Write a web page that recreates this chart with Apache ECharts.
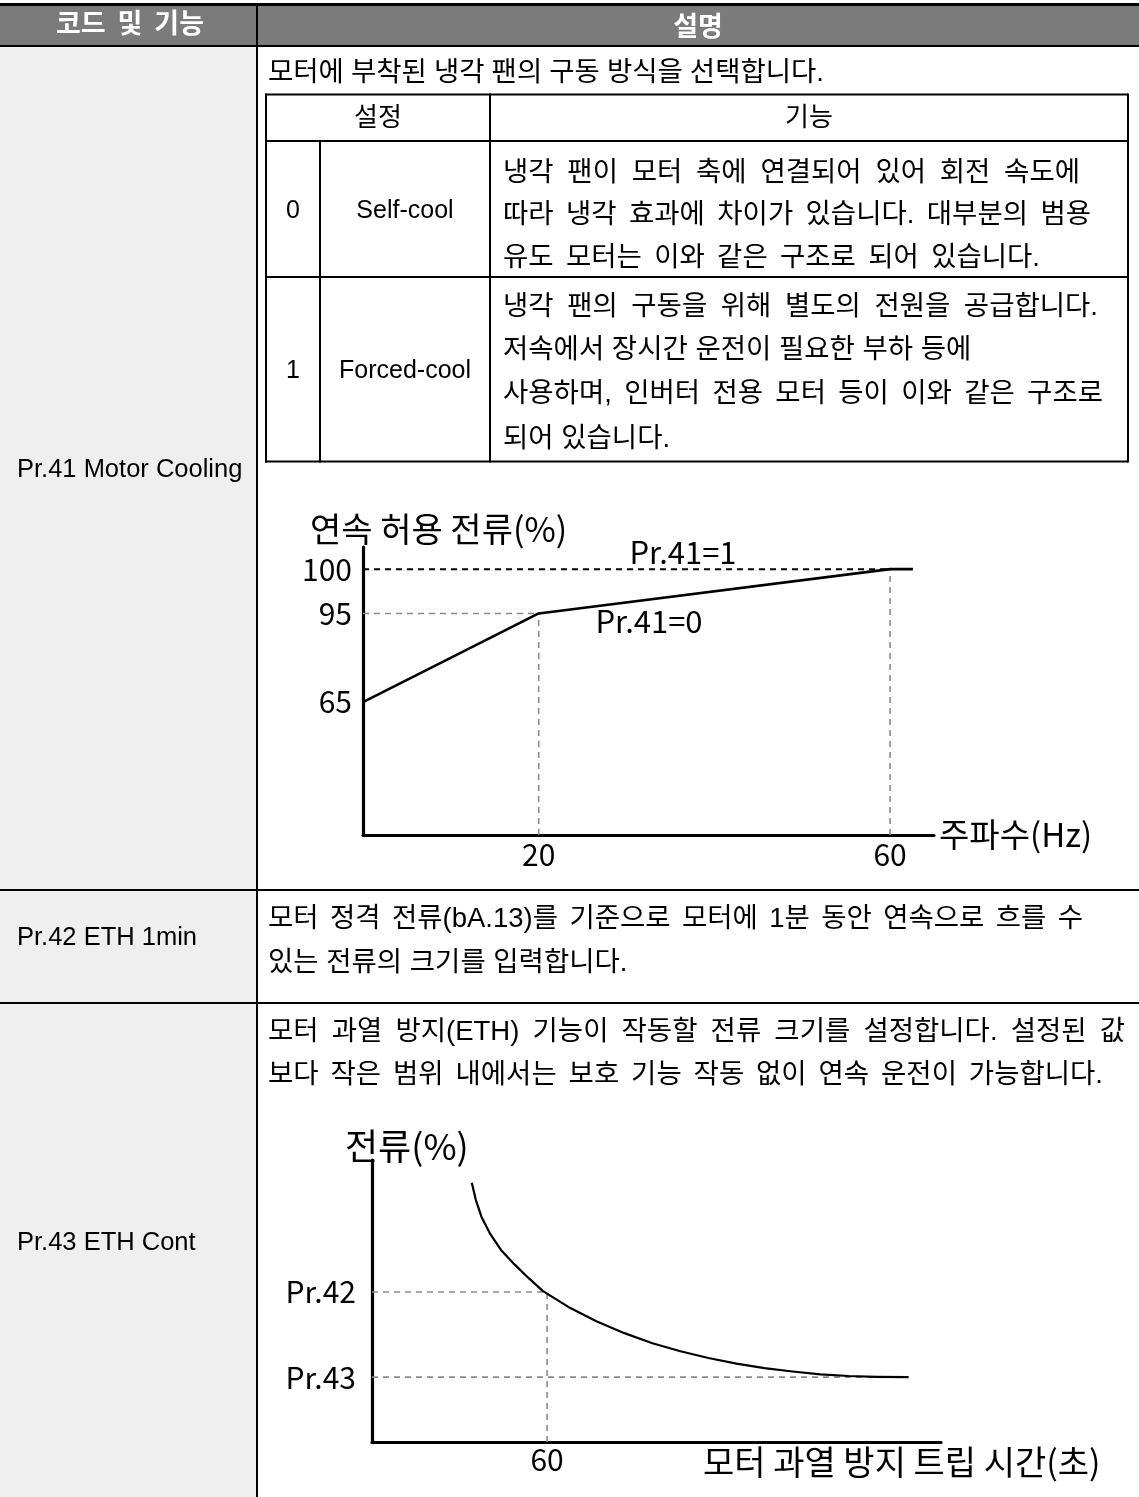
<!DOCTYPE html>
<html><head><meta charset="utf-8">
<script src="https://cdn.jsdelivr.net/npm/echarts@6/dist/echarts.min.js"></script>
<style>html,body{margin:0;padding:0;background:#fff}#c{width:1139px;height:1497px}</style>
</head><body><div id="c"></div>
<script>
// ---------- Chart 1 : 연속 허용 전류 vs 주파수 ----------
const freqHz = [0, 20, 60, 62.6];           // Pr.41=0 curve, x
const selfCoolPct = [65, 95, 100, 100];     // Pr.41=0 curve, y (%)
const forcedHz = [0, 60];                   // Pr.41=1 line, x
const forcedPct = [100, 100];               // Pr.41=1 line, y (%)
const xTicks1 = [20, 60];
const yTicks1 = [65, 95, 100];
// schematic drawing height of each labelled % (the drawing is not to scale)
const pctLevel = {0: 0, 65: 3, 95: 5, 100: 6};
const guides1 = [[[0, 95], [20, 95]], [[20, 0], [20, 95]], [[60, 0], [60, 100]]];

// ---------- Chart 2 : 전류 vs 모터 과열 방지 트립 시간 ----------
const tripTime = [34.2, 35.6, 37.5, 40.4, 44.2, 49.0, 53.8, 58.6, 67.3, 76.9, 86.5, 96.1, 105.7, 115.3, 124.9, 134.5, 144.1, 153.7, 163.3, 172.9, 183.9];
const tripCurrent = [91.9, 85.8, 79.9, 74.0, 68.1, 62.8, 58.0, 53.5, 47.9, 42.8, 38.6, 35.0, 32.2, 29.8, 27.8, 26.2, 25.0, 24.0, 23.4, 23.1, 23.0];
const xTicks2 = [60];
const yTicks2 = [53.2, 23.0];
const yTickLabels2 = ['Pr.42', 'Pr.43'];
const guides2 = [[[0, 53.2], [60, 53.2]], [[60, 0], [60, 53.2]], [[0, 23.0], [183.9, 23.0]]];

// ---------- Table text ----------
const headerCols = ['코드 및 기능', '설명'];
const codeLabels = ['Pr.41 Motor Cooling', 'Pr.42 ETH 1min', 'Pr.43 ETH Cont'];
const introText = '모터에 부착된 냉각 팬의 구동 방식을 선택합니다.';
const innerHeader = ['설정', '기능'];
const settingNums = ['0', '1'];
const settingNames = ['Self-cool', 'Forced-cool'];
const settingDesc = [
  ['냉각 팬이 모터 축에 연결되어 있어 회전 속도에', '따라 냉각 효과에 차이가 있습니다. 대부분의 범용', '유도 모터는 이와 같은 구조로 되어 있습니다.'],
  ['냉각 팬의 구동을 위해 별도의 전원을 공급합니다.', '저속에서 장시간 운전이 필요한 부하 등에', '사용하며, 인버터 전용 모터 등이 이와 같은 구조로', '되어 있습니다.']
];
const pr42Desc = ['모터 정격 전류(bA.13)를 기준으로 모터에 1분 동안 연속으로 흐를 수', '있는 전류의 크기를 입력합니다.'];
const pr43Desc = ['모터 과열 방지(ETH) 기능이 작동할 전류 크기를 설정합니다. 설정된 값', '보다 작은 범위 내에서는 보호 기능 작동 없이 연속 운전이 가능합니다.'];

const KR = '"Noto Sans CJK KR"';
const BODY = '"Liberation Sans", "Noto Sans CJK KR"';
const FS = 27.5;

const mctx = document.createElement('canvas').getContext('2d');
function measure(text, size, family, weight) {
  mctx.font = (weight || 'normal') + ' ' + size + 'px ' + family;
  return mctx.measureText(text).width;
}

function txt(text, x, y, size, o) {
  o = o || {};
  return {
    type: 'text', x: x, y: y, z: 20, silent: true,
    style: {
      text: text, fontSize: size, fontFamily: o.family || BODY, fontWeight: o.weight || 'normal',
      fill: o.color || '#000',
      align: o.align || 'left', textAlign: o.align || 'left',
      verticalAlign: 'middle', textVerticalAlign: 'middle'
    }
  };
}
// a text line whose words are spread to span x0..x1 (justified), as in the source document
function jline(out, text, x0, x1, y, size, o) {
  o = o || {};
  const fam = o.family || BODY, wt = o.weight || 'normal';
  const words = text.split(' ');
  const widths = words.map(w => measure(w, size, fam, wt));
  const sum = widths.reduce((a, b) => a + b, 0);
  const natGap = measure(' ', size, fam, wt);
  let gap = natGap;
  if (x1 != null && words.length > 1) gap = Math.max(natGap * 0.8, (x1 - x0 - sum) / (words.length - 1));
  let x = x0;
  words.forEach((w, i) => { out.push(txt(w, x, y, size, o)); x += widths[i] + gap; });
}
function ln(x1, y1, x2, y2, w, c) {
  return {type: 'line', z: 15, silent: true, shape: {x1: x1, y1: y1, x2: x2, y2: y2}, style: {stroke: c || '#000', lineWidth: w || 2}};
}
function rc(x, y, w, h, fill, z) {
  return {type: 'rect', z: z || 1, silent: true, shape: {x: x, y: y, width: w, height: h}, style: {fill: fill}};
}

const els = [];
// header
els.push(rc(0, 3, 1139, 3, '#000', 2));
els.push(rc(0, 6, 1139, 39, '#7b7b7c', 1));
els.push(rc(0, 47, 256, 1450, '#efefef', 1));
els.push(ln(0, 46, 1139, 46, 2));
els.push(ln(257, 6, 257, 1497, 2));
els.push(ln(0, 890, 1139, 890, 2));
els.push(ln(0, 1003, 1139, 1003, 2));
jline(els, headerCols[0], 56, 204, 26, 27, {weight: 'bold', color: '#fff'});
els.push(txt(headerCols[1], 698, 26, 27, {family: KR, weight: 'bold', color: '#fff', align: 'center'}));
// left labels
els.push(txt(codeLabels[0], 17, 470, 25.5));
els.push(txt(codeLabels[1], 17, 938, 25.5));
els.push(txt(codeLabels[2], 17, 1243, 25.5));
// intro
jline(els, introText, 268, 824, 73, FS);
// inner table
els.push(ln(265, 94.5, 1128, 94.5, 2));
els.push(ln(265, 141, 1128, 141, 2));
els.push(ln(265, 277, 1128, 277, 2));
els.push(ln(265, 461.5, 1128, 461.5, 2));
els.push(ln(266, 93.5, 266, 462.5, 2));
els.push(ln(1128, 93.5, 1128, 462.5, 2));
els.push(ln(490, 93.5, 490, 462.5, 2));
els.push(ln(320, 141, 320, 462.5, 2));
els.push(txt(innerHeader[0], 378, 119, 26, {align: 'center'}));
els.push(txt(innerHeader[1], 809, 119, 26, {align: 'center'}));
els.push(txt(settingNums[0], 293, 211, 25, {align: 'center'}));
els.push(txt(settingNames[0], 405, 211, 25, {align: 'center'}));
els.push(txt(settingNums[1], 293, 371, 25, {align: 'center'}));
els.push(txt(settingNames[1], 405, 371, 25, {align: 'center'}));
const row0Ends = [1080, 1091, 1040];
const row1Ends = [1098, null, 1103, null];
[173, 215, 258].forEach((y, i) => jline(els, settingDesc[0][i], 503, row0Ends[i], y, FS));
[307, 350, 394, 439].forEach((y, i) => jline(els, settingDesc[1][i], 503, row1Ends[i], y, FS));
// Pr.42 / Pr.43 text
jline(els, pr42Desc[0], 268, 1083, 919, FS);
jline(els, pr42Desc[1], 268, null, 963, FS);
jline(els, pr43Desc[0], 268, 1125, 1032, FS);
jline(els, pr43Desc[1], 268, 1103, 1075, FS);
// chart annotations
els.push(txt('연속 허용 전류(%)', 310, 529, 34, {family: KR}));
els.push(txt('주파수(Hz)', 939, 834, 33, {family: KR}));
els.push(txt('Pr.41=1', 683, 552, 31, {family: KR, align: 'center'}));
els.push(txt('Pr.41=0', 649, 621, 31, {family: KR, align: 'center'}));
els.push(txt('전류(%)', 345, 1146, 36, {family: KR}));
els.push(txt('모터 과열 방지 트립 시간(초)', 703, 1462, 34, {family: KR}));

const gray = {color: '#8a8a8a', width: 1.6, type: [6, 5]};
function lineSeries(data, xi, style, z) {
  return {type: 'line', xAxisIndex: xi, yAxisIndex: xi, data: data, showSymbol: false, symbol: 'none',
    silent: true, smooth: false, z: z, lineStyle: style, animation: false};
}
const series = [];
guides1.forEach(g => series.push(lineSeries(g.map(p => [p[0], pctLevel[p[1]]]), 0, gray, 3)));
series.push(lineSeries(forcedHz.map((h, i) => [h, pctLevel[forcedPct[i]]]), 0, {color: '#000', width: 2, type: [6, 5]}, 4));
series.push(lineSeries(freqHz.map((h, i) => [h, pctLevel[selfCoolPct[i]]]), 0, {color: '#000', width: 2.6}, 5));
guides2.forEach(g => series.push(lineSeries(g, 1, gray, 3)));
series.push(lineSeries(tripTime.map((t, i) => [t, tripCurrent[i]]), 1, {color: '#000', width: 2.2, join: 'round'}, 5));

const axisLine = {show: true, onZero: false, lineStyle: {color: '#000', width: 3.2}};
const lab = {color: '#000', fontSize: 30, fontFamily: KR};
const option = {
  animation: false,
  backgroundColor: '#fff',
  grid: [
    {left: 363, top: 547, width: 571, height: 288},
    {left: 372, top: 1160, width: 569, height: 282}
  ],
  xAxis: [
    {type: 'value', gridIndex: 0, min: 0, max: 65, axisLine: axisLine, axisTick: {show: false}, splitLine: {show: false},
      axisLabel: Object.assign({customValues: xTicks1, margin: 5}, lab)},
    {type: 'value', gridIndex: 1, min: 0, max: 195, axisLine: axisLine, axisTick: {show: false}, splitLine: {show: false},
      axisLabel: Object.assign({customValues: xTicks2, margin: 3}, lab)}
  ],
  yAxis: [
    {type: 'value', gridIndex: 0, min: 0, max: 6.5, axisLine: axisLine, axisTick: {show: false}, splitLine: {show: false},
      axisLabel: Object.assign({customValues: yTicks1.map(p => pctLevel[p]), margin: 11,
        formatter: v => { const p = yTicks1.find(q => Math.abs(pctLevel[q] - v) < 1e-6); return p === undefined ? '' : String(p); }}, lab)},
    {type: 'value', gridIndex: 1, min: 0, max: 100, axisLine: axisLine, axisTick: {show: false}, splitLine: {show: false},
      axisLabel: Object.assign({customValues: yTicks2, margin: 16,
        formatter: v => { const i = yTicks2.findIndex(q => Math.abs(q - v) < 1e-6); return i < 0 ? '' : yTickLabels2[i]; }}, lab)}
  ],
  series: series,
  graphic: {elements: els}
};
const chart = echarts.init(document.getElementById('c'), null, {renderer: 'canvas'});
chart.setOption(option);
</script></body></html>
